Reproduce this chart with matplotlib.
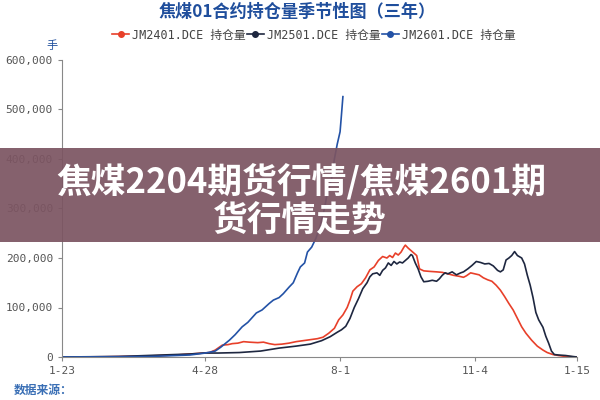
import matplotlib
matplotlib.use("Agg")
import matplotlib.pyplot as plt
from matplotlib.patches import Rectangle
from matplotlib.lines import Line2D

plt.rcParams["font.family"] = ["DejaVu Sans Mono", "Noto Sans CJK SC"]

# days counted from 1-23
tick_pos = [0, 101, 196, 291, 363]
tick_labels = ["1-23", "4-28", "8-1", "11-4", "1-15"]

# JM2601 (thousand lots)
jm2601_x = [0, 62, 90, 101, 108, 112, 118, 122, 127, 131, 137, 141, 146, 149, 153,
            156, 160, 163, 166, 168, 171, 173, 176, 179, 182, 185, 187, 190, 192,
            194, 196, 197, 198]
jm2601_y = [0, 1, 4, 8, 12, 20, 34, 45, 61, 70, 89, 95, 108, 115, 120,
            128, 141, 150, 170, 182, 190, 212, 222, 240, 265, 300, 331, 360, 400,
            430, 455, 490, 526]

# JM2401
jm2401_x = [0, 30, 60, 80, 95, 104, 108, 113, 117, 120, 124, 128, 132, 138, 142,
            146, 150, 155, 160, 165, 170, 175, 180, 184, 188, 192, 195, 198, 201,
            203, 205, 208, 211, 214, 217, 220, 223, 226, 229, 231, 233, 235, 237,
            239, 241, 242, 244, 246, 248, 250, 252, 255, 259, 264, 268, 272, 276,
            280, 283, 285, 288, 291, 294, 297, 300, 303, 306, 309, 312, 315, 318,
            321, 324, 327, 331, 335, 339, 342, 346, 350, 355, 363]
jm2401_y = [0, 0.5, 2, 4, 7, 9, 14, 24, 25, 27, 28, 31, 30, 29, 30,
            27, 25, 26, 28, 31, 33, 35, 37, 40, 48, 58, 75, 85, 100,
            115, 133, 142, 148, 160, 176, 182, 195, 203, 200, 205, 201, 210, 206,
            212, 222, 226, 220, 215, 210, 205, 178, 174, 173, 172, 171, 168, 165,
            163, 161, 164, 170, 168, 166, 160, 156, 153, 145, 135, 122, 108, 95,
            78, 61, 48, 34, 22, 14, 9, 5, 3, 1, 0]

# JM2501
jm2501_x = [0, 40, 70, 90, 100, 110, 125, 140, 153, 165, 175, 183, 189, 194, 197,
            200, 203, 206, 209, 212, 215, 217, 219, 222, 224, 226, 228, 230, 232,
            234, 236, 238, 240, 242, 244, 246, 247, 249, 251, 253, 255, 258, 261,
            264, 266, 268, 270, 272, 275, 278, 281, 283, 286, 289, 292, 295, 298,
            301, 304, 307, 309, 311, 313, 315, 317, 319, 321, 324, 326, 328, 330,
            332, 334, 336, 339, 341, 343, 345, 347, 350, 355, 360, 363]
jm2501_y = [0, 1, 4, 6, 8, 8, 9, 12, 18, 22, 26, 33, 41, 50, 55,
            62, 78, 100, 118, 138, 150, 162, 168, 170, 165, 175, 180, 190, 185,
            193, 188, 192, 190, 195, 200, 207, 205, 190, 178, 162, 152, 153, 155,
            153, 158, 165, 170, 168, 172, 166, 170, 172, 178, 185, 193, 191, 188,
            189, 184, 175, 172, 176, 196, 200, 205, 213, 205, 200, 188, 165, 145,
            120, 90, 75, 60, 42, 28, 12, 5, 4, 3, 1, 0]

series = [
    ("JM2401.DCE 持仓量", jm2401_x, jm2401_y, "#e8402a"),
    ("JM2501.DCE 持仓量", jm2501_x, jm2501_y, "#1e2740"),
    ("JM2601.DCE 持仓量", jm2601_x, jm2601_y, "#2352a6"),
]

fig = plt.figure(figsize=(6, 4), dpi=100)
ax = fig.add_axes([62 / 600, 1 - 357 / 400, 515 / 600, 297 / 400])

for name, xs, ys, color in series:
    ax.plot(xs, [v * 1000 for v in ys], color=color, lw=1.2, label=name)

ax.set_xlim(0, 363)
ax.set_ylim(0, 600000)
ax.set_xticks(tick_pos)
ax.set_xticklabels(tick_labels)
ax.set_yticks(range(0, 600001, 100000))
ax.set_yticklabels(["0" if v == 0 else f"{v:,}" for v in range(0, 600001, 100000)])
ax.tick_params(colors="#888888", labelcolor="#555555", labelsize=8, length=3, width=0.8)
for side in ["top", "right"]:
    ax.spines[side].set_visible(False)
for side in ["left", "bottom"]:
    ax.spines[side].set_color("#888888")
    ax.spines[side].set_linewidth(0.8)

# title, legend, units, source
fig.text(297 / 600, 1 - 12 / 400, "焦煤01合约持仓量季节性图（三年）", ha="center", va="center",
         fontsize=12.3, fontweight="bold", color="#1f4e9c",
         family=["Noto Sans CJK SC", "DejaVu Sans"])
handles = [Line2D([], [], color=c, lw=1.2, marker="o", markersize=4) for _, _, _, c in series]
fig.legend(handles, [s[0] for s in series], loc="center", bbox_to_anchor=(314 / 600, 1 - 35 / 400),
           ncol=3, frameon=False, fontsize=8.5, handlelength=1.4, handletextpad=0.3,
           columnspacing=0.1, labelcolor="#444444")
fig.text(52 / 600, 1 - 46 / 400, "手", ha="center", va="center", fontsize=8, color="#1f4e9c",
         family=["Noto Sans CJK SC"])
fig.text(14 / 600, 1 - 390 / 400, "数据来源：", ha="left", va="center", fontsize=8.5,
         fontweight="bold", color="#3a6fb5", family=["Noto Sans CJK SC"])

# overlay banner
fig.add_artist(Rectangle((0, 1 - 242 / 400), 1, 94 / 400, transform=fig.transFigure,
                         facecolor="#7c5562", alpha=0.93, edgecolor="none", zorder=5))
fig.text(301 / 600, 1 - 181 / 400, "焦煤2204期货行情/焦煤2601期", ha="center", va="center",
         fontsize=25, fontweight="bold", color="white", zorder=6,
         family=["Noto Sans CJK SC"])
fig.text(300 / 600, 1 - 220 / 400, "货行情走势", ha="center", va="center",
         fontsize=25, fontweight="bold", color="white", zorder=6,
         family=["Noto Sans CJK SC"])

fig.savefig("out.png", dpi=100)
